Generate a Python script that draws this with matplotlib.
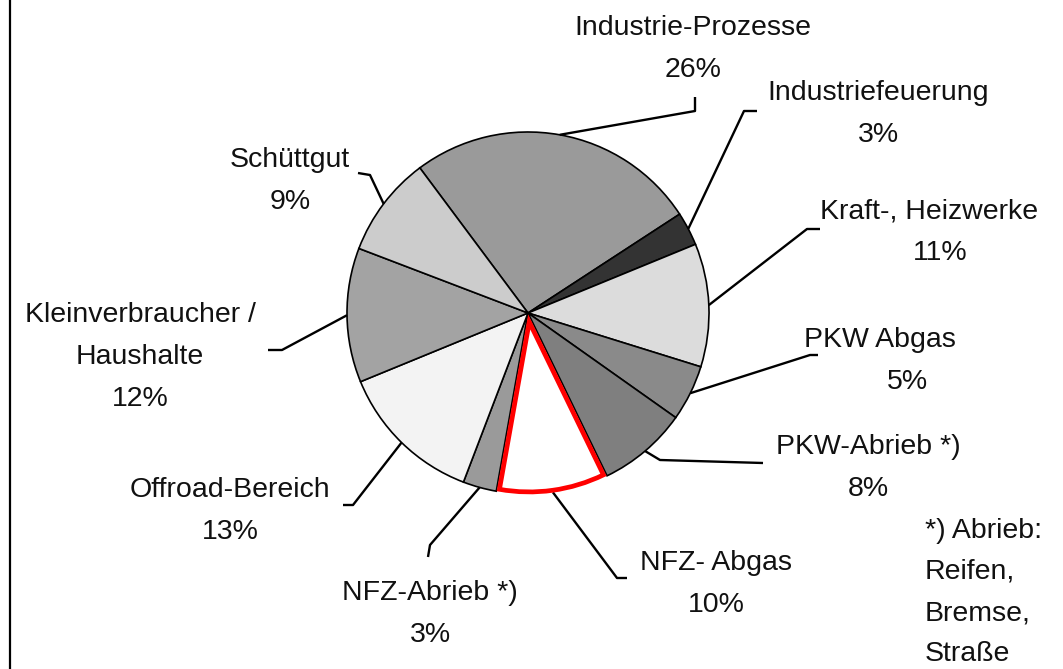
import matplotlib
matplotlib.use("Agg")
import matplotlib.pyplot as plt
import numpy as np
from matplotlib.lines import Line2D

# ---- data ----
categories = ["Industrie-Prozesse", "Industriefeuerung", "Kraft-, Heizwerke", "PKW Abgas",
              "PKW-Abrieb *)", "NFZ- Abgas", "NFZ-Abrieb *)", "Offroad-Bereich",
              "Kleinverbraucher /\nHaushalte", "Schüttgut"]
shares = [26, 3, 11, 5, 8, 10, 3, 13, 12, 9]
colors = ["#9a9a9a", "#333333", "#dcdcdc", "#8a8a8a", "#7f7f7f",
          "#ffffff", "#9a9a9a", "#f3f3f3", "#a3a3a3", "#cccccc"]
highlight = "NFZ- Abgas"
footnote = ["*) Abrieb:", "Reifen,", "Bremse,", "Straße"]

W, H = 1063, 669
plt.rcParams['font.family'] = ['Liberation Sans', 'DejaVu Sans']

fig = plt.figure(figsize=(W / 100, H / 100), dpi=100)
ax = fig.add_axes([0, 0, 1, 1])

cx, cy, R = 528, H - 313, 181
shift = 0.05 * R
explode = [shift if c == highlight else 0 for c in categories]
wedges, _ = ax.pie(shares, colors=colors, startangle=126.7, counterclock=False,
                   center=(cx, cy), radius=R, explode=explode, frame=True,
                   wedgeprops=dict(edgecolor="black", linewidth=1.2))
for w, c in zip(wedges, categories):
    if c == highlight:
        w.set_radius(R - shift - 2)
        w.set_edgecolor("#ff0000")
        w.set_linewidth(3.4)
        w.set_joinstyle("miter")
        w.set_zorder(5)

ax.set_xlim(0, W)
ax.set_ylim(0, H)
ax.set_aspect("equal")
ax.axis("off")

# label layout: (elbow, end, text position (x, first-line y), ha)
layout = {
    "Industrie-Prozesse": ((695, 111), (695, 97), (693, 28), "center"),
    "Industriefeuerung": ((744, 111), (757, 111), (878, 93), "center"),
    "Kraft-, Heizwerke": ((807, 229), (820, 229), (820, 211), "left"),
    "PKW Abgas": ((810, 355), (818, 355), (880, 340), "center"),
    "PKW-Abrieb *)": ((660, 460), (763, 463), (868, 447), "center"),
    "NFZ- Abgas": ((617, 578), (627, 578), (716, 563), "center"),
    "NFZ-Abrieb *)": ((430, 545), (428, 557), (430, 593), "center"),
    "Offroad-Bereich": ((353, 505), (343, 505), (230, 490), "center"),
    "Kleinverbraucher /\nHaushalte": ((282, 350), (268, 350), (140, 315), "center"),
    "Schüttgut": ((370, 175), (358, 173), (290, 160), "center"),
}
pct_x = {"Kraft-, Heizwerke": 940, "PKW Abgas": 907}
step = 42
fs = 20.5
tc = "#111111"

for w, c, s in zip(wedges, categories, shares):
    mid = np.deg2rad((w.theta1 + w.theta2) / 2)
    sx, sy = cx + R * np.cos(mid), cy + R * np.sin(mid)
    (ex, ey), (tx, ty), (lx, ly), ha = layout[c]
    ax.plot([sx, ex, tx], [sy, H - ey, H - ty], color="black", lw=1.7,
            solid_capstyle="butt", zorder=2)
    lines = c.split("\n")
    for i, t in enumerate(lines):
        ax.text(lx, H - (ly + i * step), t, ha=ha, va="center", fontsize=fs, color=tc)
    px = pct_x.get(c, lx)
    ax.text(px, H - (ly + len(lines) * step), f"{s}%", ha="center", va="center",
            fontsize=fs, color=tc)

for i, t in enumerate(footnote):
    ax.text(925, H - (531 + i * 41), t, ha="left", va="center", fontsize=fs, color=tc)

fig.add_artist(Line2D([10 / W, 10 / W], [0, 1], transform=fig.transFigure,
                      color="black", lw=1.6))

fig.savefig("out.png", dpi=100)
